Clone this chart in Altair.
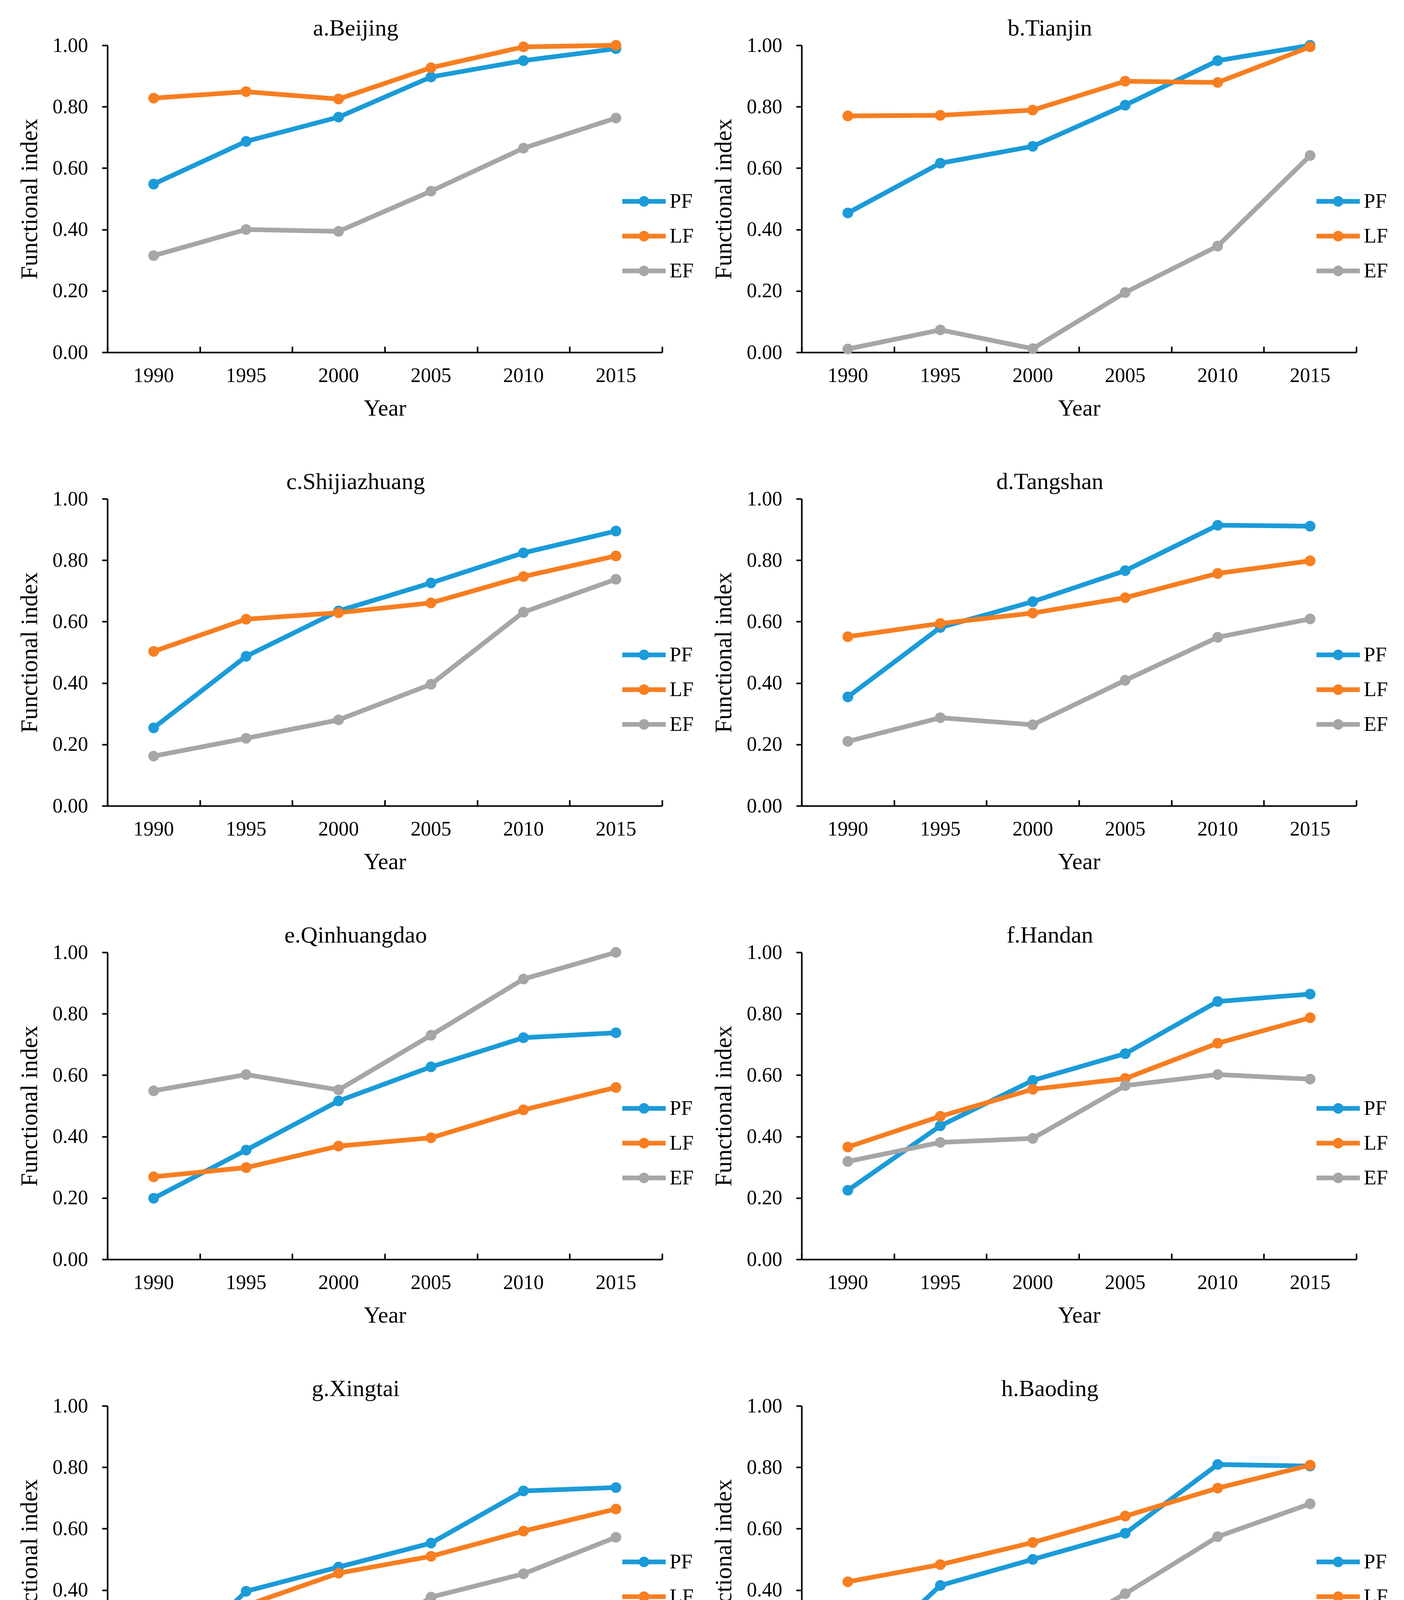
import altair as alt
import pandas as pd

YEARS = [1990, 1995, 2000, 2005, 2010, 2015]
SERIES = ["PF", "LF", "EF"]
COLORS = ["#1B9BD8", "#F77E21", "#A6A6A6"]
Y_TICKS = [0.0, 0.2, 0.4, 0.6, 0.8, 1.0]

TITLES = ["a.Beijing", "b.Tianjin", "c.Shijiazhuang", "d.Tangshan", "e.Qinhuangdao",
          "f.Handan", "g.Xingtai", "h.Baoding", "i.Zhangjiakou", "j.Chengde"]

BEIJING_PF = [0.548, 0.687, 0.766, 0.897, 0.950, 0.989]
BEIJING_LF = [0.828, 0.849, 0.825, 0.927, 0.995, 1.000]
BEIJING_EF = [0.315, 0.400, 0.394, 0.525, 0.665, 0.763]

TIANJIN_PF = [0.454, 0.616, 0.671, 0.805, 0.950, 1.000]
TIANJIN_LF = [0.770, 0.772, 0.789, 0.883, 0.879, 0.995]
TIANJIN_EF = [0.011, 0.073, 0.012, 0.195, 0.346, 0.641]

SHIJIAZHUANG_PF = [0.254, 0.487, 0.635, 0.726, 0.824, 0.895]
SHIJIAZHUANG_LF = [0.503, 0.608, 0.629, 0.661, 0.747, 0.814]
SHIJIAZHUANG_EF = [0.162, 0.220, 0.280, 0.396, 0.631, 0.738]

TANGSHAN_PF = [0.355, 0.581, 0.665, 0.766, 0.914, 0.911]
TANGSHAN_LF = [0.551, 0.594, 0.628, 0.678, 0.757, 0.798]
TANGSHAN_EF = [0.210, 0.287, 0.264, 0.409, 0.549, 0.609]

QINHUANGDAO_PF = [0.199, 0.356, 0.516, 0.627, 0.722, 0.738]
QINHUANGDAO_LF = [0.269, 0.299, 0.369, 0.396, 0.487, 0.560]
QINHUANGDAO_EF = [0.549, 0.602, 0.552, 0.730, 0.913, 1.000]

HANDAN_PF = [0.225, 0.435, 0.583, 0.670, 0.840, 0.864]
HANDAN_LF = [0.366, 0.466, 0.554, 0.589, 0.704, 0.787]
HANDAN_EF = [0.319, 0.381, 0.394, 0.566, 0.602, 0.587]

XINGTAI_PF = [0.107, 0.396, 0.475, 0.553, 0.723, 0.734]
XINGTAI_LF = [0.249, 0.350, 0.455, 0.510, 0.592, 0.664]
XINGTAI_EF = [0.121, 0.180, 0.176, 0.377, 0.453, 0.572]

BAODING_PF = [0.133, 0.415, 0.500, 0.585, 0.809, 0.804]
BAODING_LF = [0.427, 0.483, 0.555, 0.641, 0.732, 0.807]
BAODING_EF = [0.238, 0.243, 0.217, 0.388, 0.574, 0.681]

ZHANGJIAKOU_PF = [0.100, 0.255, 0.321, 0.426, 0.594, 0.619]
ZHANGJIAKOU_LF = [0.074, 0.181, 0.222, 0.266, 0.395, 0.499]
ZHANGJIAKOU_EF = [0.554, 0.623, 0.574, 0.669, 0.811, 0.811]

CHENGDE_PF = [0.000, 0.248, 0.250, 0.444, 0.613, 0.637]
CHENGDE_LF = [0.000, 0.089, 0.001, 0.129, 0.281, 0.329]
CHENGDE_EF = [0.458, 0.481, 0.481, 0.758, 0.842, 1.000]

CITY_SERIES = [
    (BEIJING_PF, BEIJING_LF, BEIJING_EF),
    (TIANJIN_PF, TIANJIN_LF, TIANJIN_EF),
    (SHIJIAZHUANG_PF, SHIJIAZHUANG_LF, SHIJIAZHUANG_EF),
    (TANGSHAN_PF, TANGSHAN_LF, TANGSHAN_EF),
    (QINHUANGDAO_PF, QINHUANGDAO_LF, QINHUANGDAO_EF),
    (HANDAN_PF, HANDAN_LF, HANDAN_EF),
    (XINGTAI_PF, XINGTAI_LF, XINGTAI_EF),
    (BAODING_PF, BAODING_LF, BAODING_EF),
    (ZHANGJIAKOU_PF, ZHANGJIAKOU_LF, ZHANGJIAKOU_EF),
    (CHENGDE_PF, CHENGDE_LF, CHENGDE_EF),
]

FONT = "Liberation Serif"
W, H = 1420, 786

# legend symbol: a line with a dot in the middle
LEGEND_PATH = ("M-1,0L1,0"
               "M0.135,0A0.135,0.135,0,1,1,-0.135,0A0.135,0.135,0,1,1,0.135,0"
               "M0.036,0A0.036,0.036,0,1,1,-0.036,0A0.036,0.036,0,1,1,0.036,0")


def panel(title, pf, lf, ef):
    df = pd.DataFrame({
        "Year": YEARS * 3,
        "Series": [s for s in SERIES for _ in YEARS],
        "Value": list(pf) + list(lf) + list(ef),
    })
    base = alt.Chart(df)
    xscale = alt.Scale(type="band", domain=YEARS, paddingInner=0, paddingOuter=0)

    lines = base.mark_line(
        strokeWidth=12,
        point=alt.OverlayMarkDef(filled=True, size=750, opacity=1),
    ).encode(
        x=alt.X("Year:O", scale=xscale, bandPosition=0.5,
                axis=alt.Axis(title="Year", ticks=False, tickSize=0, labelAngle=0,
                              labelPadding=34, titlePadding=29,
                              labelFontSize=52, titleFontSize=59,
                              domainColor="black", domainWidth=4)),
        y=alt.Y("Value:Q", scale=alt.Scale(domain=[0, 1]),
                axis=alt.Axis(title="Functional index", values=Y_TICKS, format=".2f",
                              grid=False, tickSize=14, tickWidth=4, tickColor="black",
                              domainColor="black", domainWidth=4,
                              labelFontSize=52, titleFontSize=61,
                              labelPadding=36, titlePadding=27)),
        color=alt.Color("Series:N", scale=alt.Scale(domain=SERIES, range=COLORS),
                        legend=alt.Legend(orient="none", legendX=1312, legendY=373,
                                          title=None, symbolType=LEGEND_PATH,
                                          symbolSize=12321, symbolStrokeWidth=12,
                                          labelFont=FONT, labelFontSize=53,
                                          labelColor="black", labelOffset=4,
                                          clipHeight=53, rowPadding=35, padding=0)),
    )

    ticks = base.mark_point(opacity=0).encode(
        x=alt.X("Year:O", scale=xscale, bandPosition=0.5,
                axis=alt.Axis(orient="top", offset=-H, title=None, labels=False,
                              domain=False, ticks=True, tickSize=15, tickWidth=4,
                              tickColor="black", tickBand="extent")),
        y=alt.Y("Value:Q", scale=alt.Scale(domain=[0, 1])),
    )

    return alt.layer(lines, ticks).resolve_scale(x="independent").properties(
        width=W, height=H,
        title=alt.TitleParams(title, font=FONT, fontSize=60, fontWeight="normal",
                              color="black", offset=-14, frame="bounds", anchor="middle"),
    )


panels = [panel(t, *s) for t, s in zip(TITLES, CITY_SERIES)]
rows = [
    alt.hconcat(panels[i], panels[i + 1], spacing=46)
    .resolve_scale(color="independent").resolve_legend(color="independent")
    for i in range(0, 10, 2)
]

chart = alt.vconcat(*rows, spacing=129).resolve_scale(color="independent").resolve_legend(
    color="independent"
).properties(
    padding={"left": 37, "top": 35, "right": 0, "bottom": 0},
    background="white",
).configure_view(stroke=None).configure_axis(
    labelFont=FONT, labelFontSize=52, labelColor="black",
    titleFont=FONT, titleFontSize=60, titleFontWeight="normal", titleColor="black",
)

chart.save("out.html", embed_options={"renderer": "svg", "actions": False})
